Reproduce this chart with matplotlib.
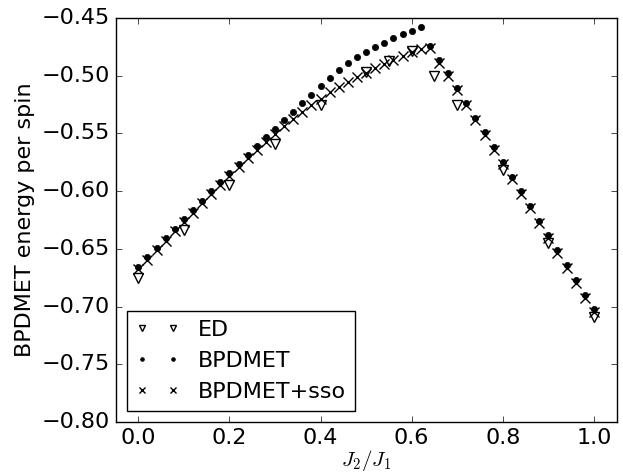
import numpy as np
import matplotlib
matplotlib.use("Agg")
import matplotlib.pyplot as plt

plt.style.use("classic")
plt.rcParams["font.size"] = 16
plt.rcParams["mathtext.fontset"] = "cm"
plt.rcParams["savefig.facecolor"] = "white"
plt.rcParams["figure.facecolor"] = "white"

# Exact diagonalization reference points
ed_x = [0.0, 0.1, 0.2, 0.3, 0.4, 0.5, 0.55, 0.6, 0.65, 0.7, 0.8, 0.9, 1.0]
ed_e = [-0.675, -0.634, -0.595, -0.559, -0.525, -0.497, -0.487, -0.479,
        -0.500, -0.525, -0.582, -0.645, -0.709]

# BPDMET, J2/J1 = 0.00 ... 1.00 in steps of 0.02
bp_x = [0.00, 0.02, 0.04, 0.06, 0.08, 0.10, 0.12, 0.14, 0.16, 0.18,
        0.20, 0.22, 0.24, 0.26, 0.28, 0.30, 0.32, 0.34, 0.36, 0.38,
        0.40, 0.42, 0.44, 0.46, 0.48, 0.50, 0.52, 0.54, 0.56, 0.58,
        0.60, 0.62, 0.64, 0.66, 0.68, 0.70, 0.72, 0.74, 0.76, 0.78,
        0.80, 0.82, 0.84, 0.86, 0.88, 0.90, 0.92, 0.94, 0.96, 0.98, 1.00]
bp_e = [-0.6655, -0.6574, -0.6490, -0.6406, -0.6326, -0.6245, -0.6164,
        -0.6083, -0.6002, -0.5921, -0.5841, -0.5765, -0.5687, -0.5609,
        -0.5535, -0.5459, -0.5386, -0.5311, -0.5238, -0.5165, -0.5090,
        -0.5020, -0.4953, -0.4892, -0.4842, -0.4796, -0.4750, -0.4714,
        -0.4676, -0.4640, -0.4610, -0.4577, -0.4743, -0.4860, -0.4980,
        -0.5104, -0.5234, -0.5364, -0.5490, -0.5618, -0.5745, -0.5875,
        -0.6002, -0.6126, -0.6256, -0.6383, -0.6510, -0.6640, -0.6770,
        -0.6898, -0.7024]

# BPDMET + sso, same grid
sso_e = [-0.6675, -0.6595, -0.6510, -0.6428, -0.6348, -0.6267, -0.6186,
         -0.6106, -0.6025, -0.5945, -0.5866, -0.5790, -0.5714, -0.5640,
         -0.5570, -0.5502, -0.5436, -0.5376, -0.5317, -0.5256, -0.5199,
         -0.5144, -0.5095, -0.5052, -0.5014, -0.4979, -0.4936, -0.4898,
         -0.4866, -0.4829, -0.4798, -0.4771, -0.4763, -0.4887, -0.5005,
         -0.5128, -0.5258, -0.5388, -0.5514, -0.5642, -0.5769, -0.5899,
         -0.6026, -0.6150, -0.6280, -0.6407, -0.6534, -0.6664, -0.6794,
         -0.6922, -0.7048]

fig = plt.figure(figsize=(6.23, 4.72), dpi=100)
ax = fig.add_axes([0.1854, 0.1059, 0.8045, 0.856])

ax.plot(ed_x, ed_e, "v", mfc="none", mec="k", ms=7.5, mew=1, label="ED")
ax.plot(bp_x, bp_e, ".", color="k", ms=9, mew=0.5, label="BPDMET")
ax.plot(bp_x, sso_e, "x", color="k", ms=7, mew=1, label="BPDMET+sso")

ax.set_xlim(-0.05, 1.05)
ax.set_ylim(-0.80, -0.45)
ax.set_xticks(np.arange(0.0, 1.01, 0.2))
ax.set_yticks(np.arange(-0.80, -0.449, 0.05))
ax.set_xlabel("$J_2/J_1$", fontsize=15, labelpad=0)
ax.set_ylabel("BPDMET energy per spin")
ax.legend(loc="lower left", numpoints=2, markerscale=0.6, fontsize=16)

fig.savefig("out.png", dpi=100)
